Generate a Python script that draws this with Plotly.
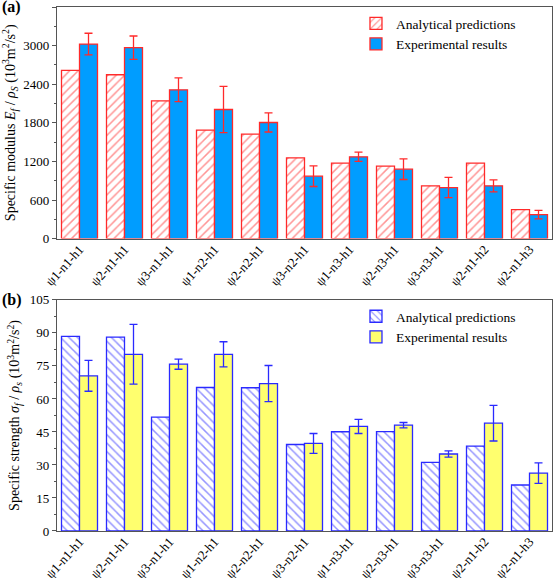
import plotly.graph_objects as go

categories = ["ψ1-n1-h1", "ψ2-n1-h1", "ψ3-n1-h1", "ψ1-n2-h1", "ψ2-n2-h1", "ψ3-n2-h1",
              "ψ1-n3-h1", "ψ2-n3-h1", "ψ3-n3-h1", "ψ2-n1-h2", "ψ2-n1-h3"]

modulus_analytical = [2614, 2547, 2142, 1686, 1624, 1255, 1172, 1126, 820, 1172, 451]
modulus_experimental = [3024, 2967, 2313, 2007, 1805, 970, 1271, 1079, 794, 820, 373]
modulus_error = [168, 182, 185, 360, 148, 160, 72, 160, 158, 93, 65]

strength_analytical = [88.4, 88.1, 51.7, 65.2, 65.1, 39.3, 45.1, 45.2, 31.2, 38.6, 20.9]
strength_experimental = [70.5, 80.3, 75.8, 80.3, 67.0, 39.8, 47.5, 48.1, 35.0, 49.0, 26.3]
strength_error = [7.0, 13.6, 2.3, 5.7, 8.2, 4.5, 3.2, 1.2, 1.4, 8.1, 4.7]

FONT = "Liberation Serif"
RED = "#ff2a2a"
BLUE_FILL = "#009dff"
BLUE_LINE = "#2a2aff"
YELLOW = "#ffff6e"

fig = go.Figure()

fig.add_trace(go.Bar(
    x=categories, y=modulus_analytical, name="Analytical predictions",
    marker=dict(color="white", line=dict(color=RED, width=1.3),
                pattern=dict(shape="/", fgcolor=RED, bgcolor="white", size=6, solidity=0.25)),
    xaxis="x", yaxis="y", legend="legend"))
fig.add_trace(go.Bar(
    x=categories, y=modulus_experimental, name="Experimental results",
    marker=dict(color=BLUE_FILL, line=dict(color=RED, width=1.3)),
    error_y=dict(type="data", array=modulus_error, color=RED, thickness=1.3, width=4),
    xaxis="x", yaxis="y", legend="legend"))

fig.add_trace(go.Bar(
    x=categories, y=strength_analytical, name="Analytical predictions",
    marker=dict(color="white", line=dict(color=BLUE_LINE, width=1.3),
                pattern=dict(shape="\\", fgcolor=BLUE_LINE, bgcolor="white", size=6, solidity=0.25)),
    xaxis="x2", yaxis="y2", legend="legend2"))
fig.add_trace(go.Bar(
    x=categories, y=strength_experimental, name="Experimental results",
    marker=dict(color=YELLOW, line=dict(color=BLUE_LINE, width=1.3)),
    error_y=dict(type="data", array=strength_error, color=BLUE_LINE, thickness=1.3, width=4),
    xaxis="x2", yaxis="y2", legend="legend2"))

axis_common = dict(showline=True, linecolor="#555555", linewidth=1.2, mirror=True,
                   showgrid=False, zeroline=False, automargin=False,
                   tickfont=dict(family=FONT, size=13, color="black"))

xcommon = dict(axis_common, tickangle=-48, ticks="", ticklabelstandoff=-3,
               tickfont=dict(family=FONT, size=13, color="black"))

fig.update_layout(
    width=553, height=578,
    margin=dict(l=57, r=1, t=7, b=47),
    paper_bgcolor="white", plot_bgcolor="white",
    barmode="group", bargap=0.2, bargroupgap=0,
    font=dict(family=FONT, color="black"),
    xaxis=dict(xcommon, domain=[0, 1], anchor="y"),
    yaxis=dict(axis_common, domain=[0.558, 1], anchor="x", range=[0, 3600], dtick=600,
               ticks="outside", ticklen=4, tickcolor="#555555",
               minor=dict(ticks="outside", ticklen=2, dtick=300, tickcolor="#555555"),
               title=dict(text="Specific modulus <i>E<sub>f</sub></i> / <i>ρ<sub>S</sub></i> (10<sup>3</sup>m<sup>2</sup>/s<sup>2</sup>)",
                          font=dict(family=FONT, size=14), standoff=6)),
    xaxis2=dict(xcommon, domain=[0, 1], anchor="y2"),
    yaxis2=dict(axis_common, domain=[0, 0.441], anchor="x2", range=[0, 105], dtick=15,
                ticks="outside", ticklen=4, tickcolor="#555555",
                minor=dict(ticks="outside", ticklen=2, dtick=7.5, tickcolor="#555555"),
                title=dict(text="Specific strength <i>σ<sub>f</sub></i> / <i>ρ<sub>s</sub></i> (10<sup>3</sup>m<sup>2</sup>/s<sup>2</sup>)",
                           font=dict(family=FONT, size=14), standoff=6)),
    legend=dict(x=0.604, y=0.998, xanchor="left", yanchor="top", bgcolor="rgba(0,0,0,0)",
                font=dict(family=FONT, size=13.5), tracegroupgap=0, itemwidth=30),
    legend2=dict(x=0.604, y=0.439, xanchor="left", yanchor="top", bgcolor="rgba(0,0,0,0)",
                 font=dict(family=FONT, size=13.5), tracegroupgap=0, itemwidth=30),
    annotations=[
        dict(text="<b>(a)</b>", xref="paper", yref="paper", x=-0.115, y=1.0,
             xanchor="left", yanchor="middle", showarrow=False, font=dict(family=FONT, size=16)),
        dict(text="<b>(b)</b>", xref="paper", yref="paper", x=-0.115, y=0.441,
             xanchor="left", yanchor="middle", showarrow=False, font=dict(family=FONT, size=16)),
    ],
)

fig.write_html("out.html", config={"displayModeBar": False},
               post_script="document.body.style.margin='0';document.body.style.overflow='hidden';")
